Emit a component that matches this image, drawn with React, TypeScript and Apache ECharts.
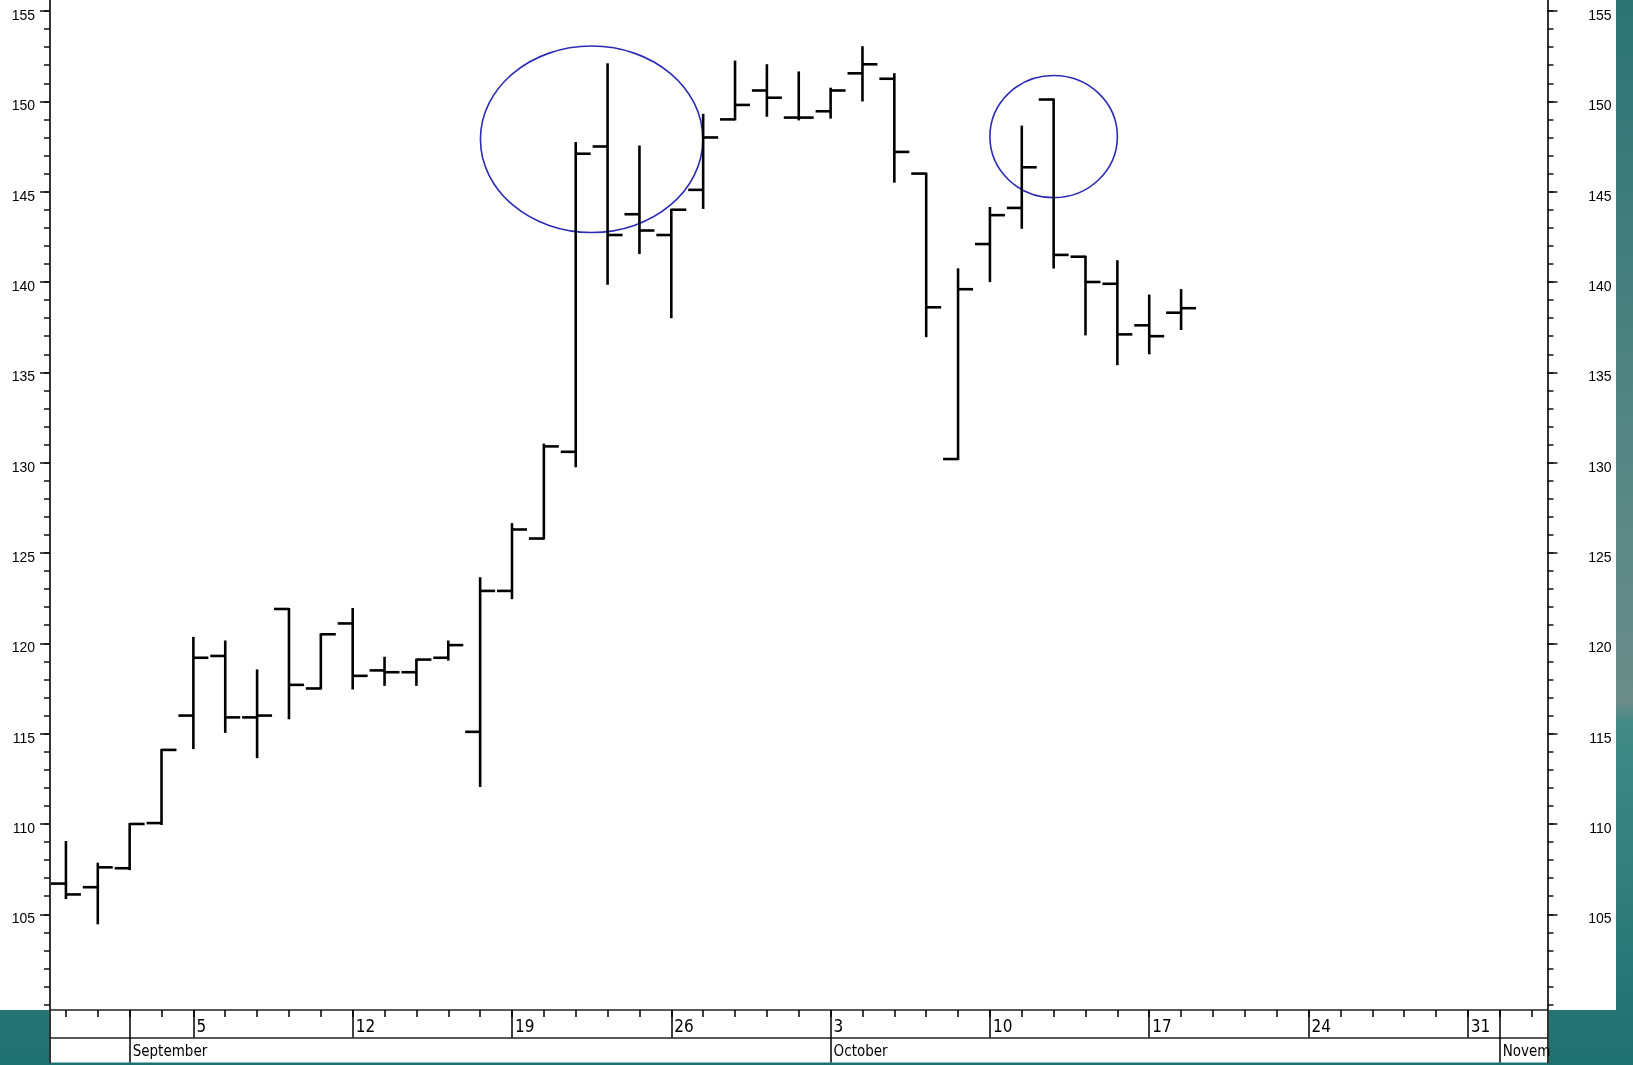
import React, { useEffect, useRef } from "react";
import * as echarts from "echarts";

// ---------- data ----------
const dates = [
  "2005-08-30", "2005-08-31", "2005-09-01", "2005-09-02",
  "2005-09-05", "2005-09-06", "2005-09-07", "2005-09-08", "2005-09-09",
  "2005-09-12", "2005-09-13", "2005-09-14", "2005-09-15", "2005-09-16",
  "2005-09-19", "2005-09-20", "2005-09-21", "2005-09-22", "2005-09-23",
  "2005-09-26", "2005-09-27", "2005-09-28", "2005-09-29", "2005-09-30",
  "2005-10-03", "2005-10-04", "2005-10-05", "2005-10-06", "2005-10-07",
  "2005-10-10", "2005-10-11", "2005-10-12", "2005-10-13", "2005-10-14",
  "2005-10-17", "2005-10-18", "2005-10-19", "2005-10-20", "2005-10-21",
  "2005-10-24", "2005-10-25", "2005-10-26", "2005-10-27", "2005-10-28",
  "2005-10-31", "2005-11-01", "2005-11-02",
];

const opens = [
  106.7, 106.5, 107.55, 110.05, 116.0, 119.3, 115.9, 121.9, 117.5,
  121.1, 118.5, 118.4, 119.2, 115.1, 122.9, 125.8, 130.6, 147.5, 143.75,
  142.6, 145.1, 149.0, 150.6, 149.1, 149.45, 151.55, 151.25, 146.0, 130.2,
  142.1, 144.1, 150.1, 141.4, 139.9, 137.6, 138.3,
];
const highs = [
  109.0, 107.8, 110.0, 114.1, 120.3, 120.1, 118.5, 121.9, 120.5,
  121.9, 119.2, 119.1, 120.1, 123.6, 126.6, 131.0, 147.7, 152.05, 147.5,
  144.0, 149.25, 152.2, 152.0, 151.6, 150.7, 153.0, 151.5, 146.0, 140.7,
  144.1, 148.6, 150.1, 141.4, 141.15, 139.25, 139.55,
];
const lows = [
  105.9, 104.5, 107.5, 110.0, 114.2, 115.1, 113.7, 115.85, 117.5,
  117.5, 117.7, 117.7, 119.1, 112.1, 122.5, 125.8, 129.8, 139.9, 141.6,
  138.05, 144.1, 149.0, 149.2, 149.0, 149.1, 150.05, 145.55, 137.0, 130.2,
  140.05, 143.0, 140.8, 137.1, 135.45, 136.05, 137.4,
];
const closes = [
  106.1, 107.6, 110.0, 114.1, 119.2, 115.9, 116.0, 117.7, 120.5,
  118.2, 118.4, 119.1, 119.9, 122.9, 126.3, 130.9, 147.1, 142.6, 142.85,
  144.0, 148.0, 149.8, 150.2, 149.1, 150.6, 152.05, 147.2, 138.6, 139.6,
  143.7, 146.35, 141.5, 140.0, 137.1, 137.0, 138.55,
];

const yTickLabels = [105, 110, 115, 120, 125, 130, 135, 140, 145, 150, 155];
const monthLabels = ["September", "October", "Novem"];

// circled areas: [category index, offset in slots, centre value, x radius in slots, y radius in units]
const circleIndex = [16, 31];
const circleOffset = [0.5, 0.0];
const circleValue = [147.9, 148.05];
const circleRx = [3.49, 2.0];
const circleRy = [5.16, 3.38];

// ---------- helpers ----------
const parsed = dates.map((s) => {
  const [y, m, d] = s.split("-").map(Number);
  return { y, m, d, dow: new Date(Date.UTC(y, m - 1, d)).getUTCDay() };
});
const isMonday = (i: number) => parsed[i] && parsed[i].dow === 1;
const isMonthStart = (i: number) => i > 0 && parsed[i] && parsed[i].m !== parsed[i - 1].m;
const monthStartIdx = dates.map((_, i) => i).filter((i) => isMonthStart(i));
const monthLabelAt = (i: number) => {
  const k = monthStartIdx.indexOf(i);
  return k >= 0 ? monthLabels[k] : "";
};

const FONT_NARROW = "'Liberation Sans Narrow', 'DejaVu Sans Condensed', 'Liberation Sans', Arial, sans-serif";
const FONT_Y = "'Liberation Sans', Arial, sans-serif";

// ---------- layout ----------
const LEFT = 50;
const PLOT_W = 1497.5;
const TOP = 11;
const UNIT = 18.066;
const Y_MIN = 100;
const Y_MAX = 155;
const PLOT_H = (Y_MAX - Y_MIN) * UNIT;
const TABLE_TOP = 1010;
const ROW_H = 27.5;
const TABLE_BOTTOM = 1062.5;
const X_OFFSET = TABLE_TOP - (TOP + PLOT_H);

export default function App() {
  const ref = useRef<HTMLDivElement>(null);

  useEffect(() => {
    if (!ref.current) return;
    const chart = echarts.init(ref.current, null, { renderer: "svg" });

    const ohlcData = opens.map((o, i) => [i, o, highs[i], lows[i], closes[i]]);
    const circleData = circleIndex.map((c, i) => [c, circleOffset[i], circleValue[i], circleRx[i], circleRy[i]]);

    const lineCol = "#000";
    const tableLine = { color: "#222", width: 1.5 };

    const majorY = (pos: "left" | "right") => ({
      gridIndex: 0,
      type: "value",
      position: pos,
      min: Y_MIN,
      max: Y_MAX,
      axisLine: { show: false, onZero: false },
      axisTick: { show: true, length: 10, customValues: yTickLabels, lineStyle: { color: "#111", width: 1.5 } },
      axisLabel: {
        show: true,
        customValues: yTickLabels,
        fontSize: 14,
        fontFamily: FONT_Y,
        color: "#000",
        verticalAlign: "top",
        lineHeight: 8,
        margin: pos === "left" ? 15 : 64,
        align: "right",
      },
      splitLine: { show: false },
    });
    const minorY = (pos: "left" | "right") => ({
      gridIndex: 0,
      type: "value",
      position: pos,
      min: Y_MIN,
      max: Y_MAX,
      interval: 1,
      axisLine: { show: false, onZero: false },
      axisTick: { show: true, length: 6, lineStyle: { color: "#111", width: 1.5 } },
      axisLabel: { show: false },
      splitLine: { show: false },
    });
    const borderY = (pos: "left" | "right") => ({
      gridIndex: 1,
      type: "value",
      position: pos,
      min: 0,
      max: 1,
      axisLine: { show: true, onZero: false, lineStyle: { color: "#333", width: 2 } },
      axisTick: { show: false },
      axisLabel: { show: false },
      splitLine: { show: false },
    });

    const option: any = {
      animation: false,
      backgroundColor: "transparent",
      graphic: [
        {
          type: "rect",
          z: -100,
          silent: true,
          shape: { x: 0, y: 0, width: 1633, height: 1065 },
          style: {
            fill: new echarts.graphic.LinearGradient(0, 0, 0, 1, [
              { offset: 0, color: "#2c7474" },
              { offset: 0.5, color: "#5d8986" },
              { offset: 0.66, color: "#6b8c89" },
              { offset: 0.68, color: "#418a86" },
              { offset: 1, color: "#1f7070" },
            ]),
          },
        },
        {
          type: "rect",
          z: -99,
          silent: true,
          shape: { x: 0, y: 0, width: 1616, height: TABLE_TOP },
          style: { fill: "#ffffff" },
        },
        {
          type: "rect",
          z: -99,
          silent: true,
          shape: { x: LEFT, y: TABLE_TOP, width: PLOT_W, height: TABLE_BOTTOM - TABLE_TOP },
          style: { fill: "#ffffff" },
        },
      ],
      grid: [
        { left: LEFT, top: TOP, width: PLOT_W, height: PLOT_H, containLabel: false },
        { left: LEFT, top: 0, width: PLOT_W, height: TABLE_BOTTOM, containLabel: false },
      ],
      xAxis: [
        {
          gridIndex: 0,
          type: "category",
          data: dates,
          boundaryGap: true,
          position: "bottom",
          offset: X_OFFSET,
          axisLine: { show: true, onZero: false, lineStyle: tableLine },
          axisTick: { show: true, alignWithLabel: true, interval: 0, length: 7, lineStyle: { color: lineCol, width: 1.5 } },
          axisLabel: {
            show: true,
            interval: 0,
            formatter: (_v: string, i: number) => (isMonday(i) ? String(parsed[i].d) : ""),
            align: "left",
            verticalAlign: "middle",
            padding: [0, 0, 0, 3],
            margin: 15.5,
            fontSize: 17,
            fontFamily: FONT_NARROW,
            color: "#000",
          },
          splitLine: { show: false },
        },
        {
          gridIndex: 0,
          type: "category",
          data: dates,
          boundaryGap: true,
          position: "bottom",
          offset: X_OFFSET,
          axisLine: { show: false, onZero: false },
          axisTick: {
            show: true,
            alignWithLabel: true,
            interval: (i: number) => isMonday(i) || isMonthStart(i),
            length: ROW_H,
            lineStyle: { color: lineCol, width: 1.5 },
          },
          axisLabel: { show: false },
          splitLine: { show: false },
        },
        {
          gridIndex: 0,
          type: "category",
          data: dates,
          boundaryGap: true,
          position: "bottom",
          offset: X_OFFSET + ROW_H,
          axisLine: { show: true, onZero: false, lineStyle: tableLine },
          axisTick: {
            show: true,
            alignWithLabel: true,
            interval: (i: number) => isMonthStart(i),
            length: TABLE_BOTTOM - TABLE_TOP - ROW_H,
            lineStyle: { color: lineCol, width: 1.5 },
          },
          axisLabel: {
            show: true,
            interval: 0,
            formatter: (_v: string, i: number) => monthLabelAt(i),
            align: "left",
            verticalAlign: "middle",
            padding: [0, 0, 0, 3],
            margin: 13.5,
            fontSize: 15,
            fontFamily: FONT_NARROW,
            color: "#000",
          },
          splitLine: { show: false },
        },
        { gridIndex: 1, type: "value", show: false, min: 0, max: 1 },
      ],
      yAxis: [majorY("left"), minorY("left"), majorY("right"), minorY("right"), borderY("left"), borderY("right")],
      series: [
        {
          type: "custom",
          name: "circles",
          xAxisIndex: 0,
          yAxisIndex: 0,
          data: circleData,
          encode: { x: 0, y: 2 },
          clip: false,
          renderItem: (_params: any, api: any) => {
            const p = api.coord([api.value(0), api.value(2)]);
            const sz = api.size([1, 1], [api.value(0), api.value(2)]);
            return {
              type: "ellipse",
              shape: {
                cx: p[0] + api.value(1) * sz[0],
                cy: p[1],
                rx: api.value(3) * sz[0],
                ry: api.value(4) * sz[1],
              },
              style: { fill: "none", stroke: "#2b2bb4", lineWidth: 1.6 },
            };
          },
        },
        {
          type: "custom",
          name: "ohlc",
          xAxisIndex: 0,
          yAxisIndex: 0,
          data: ohlcData,
          encode: { x: 0, y: [1, 2, 3, 4] },
          clip: false,
          renderItem: (_params: any, api: any) => {
            const i = api.value(0);
            const o = api.coord([i, api.value(1)]);
            const h = api.coord([i, api.value(2)]);
            const l = api.coord([i, api.value(3)]);
            const c = api.coord([i, api.value(4)]);
            const w = api.size([1, 0])[0] * 0.47;
            const st = { stroke: "#000", lineWidth: 2.6 };
            return {
              type: "group",
              children: [
                { type: "line", shape: { x1: h[0], y1: h[1] - 1, x2: l[0], y2: l[1] + 1 }, style: st },
                { type: "line", shape: { x1: o[0] - w, y1: o[1], x2: o[0], y2: o[1] }, style: st },
                { type: "line", shape: { x1: c[0], y1: c[1], x2: c[0] + w, y2: c[1] }, style: st },
              ],
            };
          },
        },
      ],
    };

    chart.setOption(option);
    return () => chart.dispose();
  }, []);

  return (
    <div
      ref={ref}
      style={{ position: "fixed", left: 0, top: 0, width: 1633, height: 1065 }}
    />
  );
}
